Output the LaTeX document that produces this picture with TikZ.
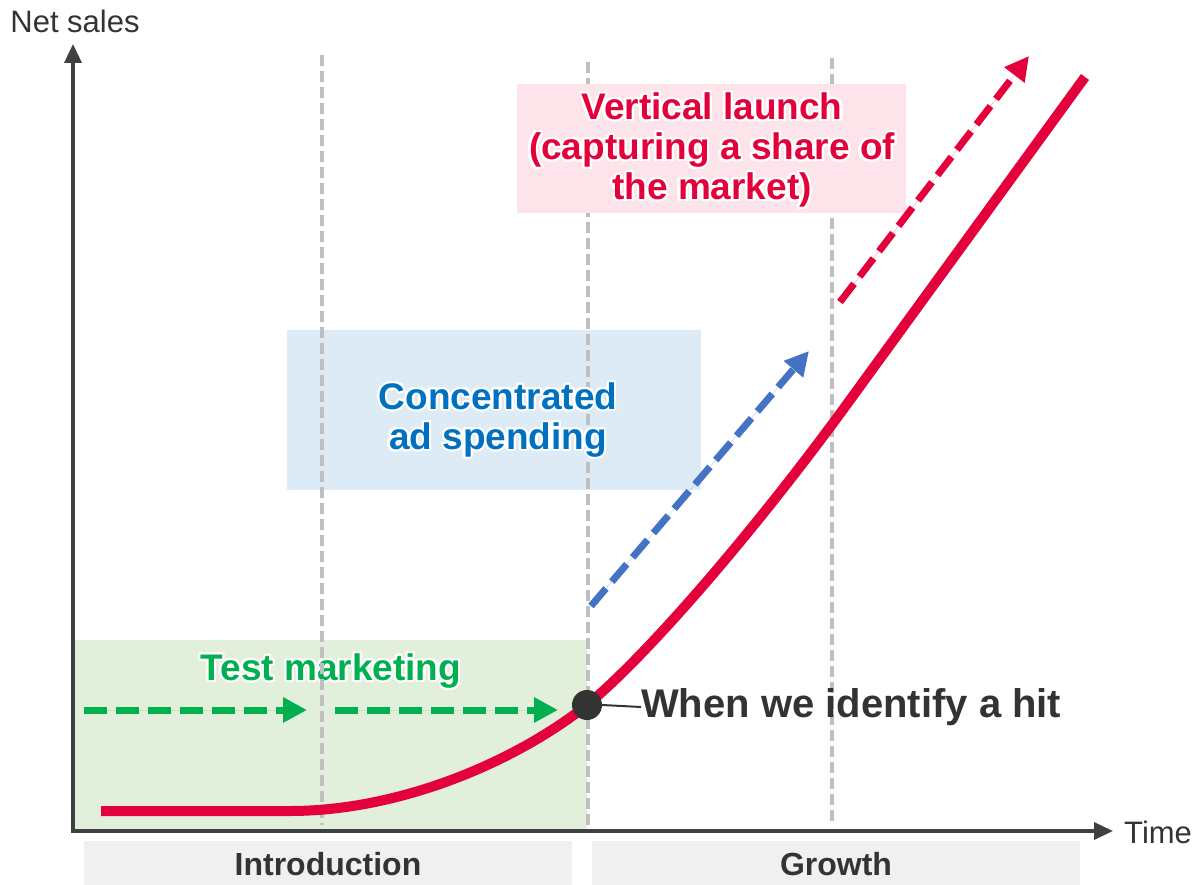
\documentclass[tikz,border=0pt]{standalone}
\usepackage{fontspec}
\setmainfont{Liberation Sans}
\usepackage{contour}
\contourlength{2.2pt}
\contournumber{24}
\usetikzlibrary{arrows.meta}

\definecolor{axisgray}{HTML}{404040}
\definecolor{txtgray}{HTML}{333333}
\definecolor{hitred}{HTML}{E4003A}
\definecolor{testgreen}{HTML}{00B050}
\definecolor{adblue}{HTML}{0070C0}
\definecolor{arrowblue}{HTML}{4472C4}
\definecolor{greenbg}{HTML}{E2EFDA}
\definecolor{bluebg}{HTML}{DDEBF7}
\definecolor{pinkbg}{HTML}{FDE4EA}
\definecolor{phasebg}{HTML}{F0F0F0}
\definecolor{guidegray}{HTML}{BFBFBF}

\tikzset{
  axisline/.style={draw=axisgray, line width=3.5pt, -{Triangle[length=19pt,width=17pt]}},
  guide/.style={draw=guidegray, line width=3.2pt, dash pattern=on 11pt off 5pt},
  phaselabel/.style={text=txtgray, font=\fontsize{32}{36}\selectfont\bfseries, inner sep=0pt},
  axislabel/.style={text=txtgray, font=\fontsize{31}{36}\selectfont, inner sep=0pt},
  calloutlabel/.style={font=\fontsize{37}{40}\selectfont\bfseries, align=center, inner sep=0pt},
  salescurve/.style={draw=hitred, line width=10pt},
  trendarrow/.style={line width=7pt, dash pattern=on 23pt off 9pt, -{Triangle[length=24pt,width=24pt]}},
}

\begin{document}
\begin{tikzpicture}[x=1pt, y=-1pt]
  \useasboundingbox (0,0) rectangle (1194,885);

  % shaded stage panels
  \fill[greenbg] (74,640) rectangle (587,830);
  \fill[bluebg] (287,330) rectangle (701,490);

  % test marketing label (the stage boundary runs across it)
  \node[calloutlabel, text=testgreen] (testlbl) at (331,672) {\contour{white}{Test marketing}};

  % stage boundaries
  \draw[guide] (322,55) -- (322,825);
  \draw[guide] (588,62) -- (588,825);
  \draw[guide] (832,58) -- (832,825);

  % vertical launch panel
  \fill[pinkbg] (517,84) rectangle (906,213);

  % axes
  \coordinate (origin) at (73,831);
  \coordinate (ytip) at (73,44);
  \coordinate (xtip) at (1113,831);
  \draw[axisline, line cap=rect] (origin) -- (ytip);
  \draw[axisline, line cap=rect] (origin) -- (xtip);
  \node[axislabel] (ylabel) at (75,21) {Net sales};
  \node[axislabel, anchor=west] (xlabel) at (1124,832) {Time};

  % phase labels
  \fill[phasebg] (84,841) rectangle (572,885);
  \fill[phasebg] (592,841) rectangle (1080,885);
  \node[phaselabel] (intro) at (328,864) {Introduction};
  \node[phaselabel] (growth) at (836,864) {Growth};

  % sales curve
  \coordinate (c0) at (101,811);
  \coordinate (c1) at (290,811);
  \coordinate (hitpt) at (587,705);
  \coordinate (c3) at (850,400);
  \coordinate (c4) at (1085,77);
  \draw[salescurve] (c0) -- (c1) .. controls (400,811) and (515,762) .. (hitpt)
        .. controls (650,653) and (760,524) .. (c3) -- (c4);

  % trend arrows
  \coordinate (g1s) at (84,710);
  \coordinate (g1e) at (307,710);
  \coordinate (g2s) at (335,710);
  \coordinate (g2e) at (558,710);
  \draw[trendarrow, draw=testgreen, fill=testgreen] (g1s) -- (g1e);
  \draw[trendarrow, draw=testgreen, fill=testgreen] (g2s) -- (g2e);
  \coordinate (bs) at (591,606);
  \coordinate (be) at (809,351);
  \draw[trendarrow, draw=arrowblue, fill=arrowblue] (bs) -- (be);
  \coordinate (rs) at (840,302);
  \coordinate (re) at (1029,56);
  \draw[trendarrow, draw=hitred, fill=hitred] (rs) -- (re);

  % hit marker
  \node[circle, fill=txtgray, minimum size=30pt, inner sep=0pt] (hit) at (hitpt) {};
  \node[text=txtgray, font=\fontsize{40}{44}\selectfont\bfseries, anchor=west, inner sep=0pt] (hitlbl) at (641,707) {When we identify a hit};
  \draw[txtgray, line width=2pt] (hit.east) -- (hitlbl.west);

  % callout labels
  \node[calloutlabel, text=adblue] (adlbl) at (498,421)
    {\contour{white}{Concentrated}\\\contour{white}{ad spending}};
  \node[calloutlabel, text=hitred] (launchlbl) at (712,151)
    {\contour{white}{Vertical launch}\\\contour{white}{(capturing a share of}\\\contour{white}{the market)}};
\end{tikzpicture}
\end{document}
